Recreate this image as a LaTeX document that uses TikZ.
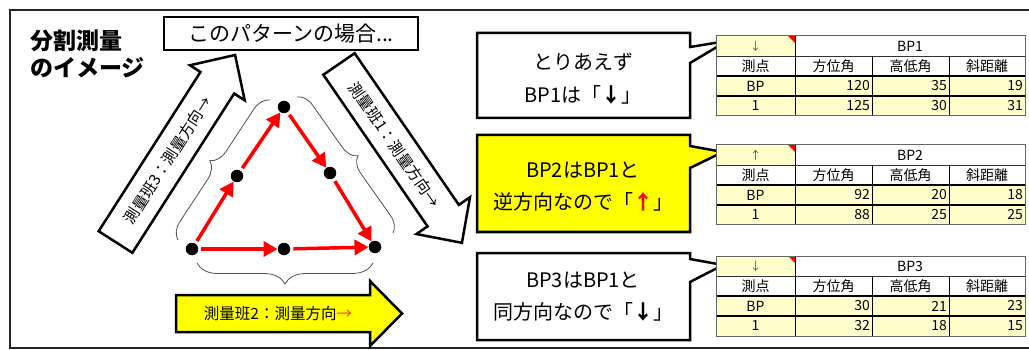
\documentclass[tikz,border=0pt]{standalone}
\usepackage{fontspec}
\setmainfont{Noto Sans CJK JP}
\usetikzlibrary{arrows.meta,decorations.pathreplacing}
\definecolor{cyel}{HTML}{FFFF00}
\definecolor{tyel}{HTML}{FFFFCC}
\definecolor{bracegray}{HTML}{505050}
\definecolor{arrred}{HTML}{FF3300}
\begin{document}
\begin{tikzpicture}[x=1pt,y=-1pt,
  dot/.style={circle,fill=black,minimum size=12.5pt,inner sep=0pt},
  redarr/.style={draw=red,line width=3.5pt,-{Triangle[length=14pt,width=15pt]},shorten <=3pt},
  brc/.style={draw=bracegray,line width=0.8pt,decorate,decoration={brace,amplitude=#1}},
  blk/.style={draw=black,line width=2.5pt,line join=miter},
  arrtext/.style={font=\fontsize{15.5}{18}\selectfont,inner sep=0pt},
  calltext/.style={font=\fontsize{20}{24}\selectfont,inner sep=0pt},
  tcell/.style={font=\fontsize{14}{16}\selectfont,inner sep=0pt},
  tnum/.style={font=\fontsize{14}{16}\selectfont,inner sep=0pt,anchor=east}]
\useasboundingbox (0,0) rectangle (1029,350);
\fill[white] (0,0) rectangle (1029,350);
% frame
\draw[line width=2pt,black!85] (1029,10) -- (10,10) -- (10,348) -- (1029,348);
% title
\node[anchor=west,font=\bfseries\fontsize{23}{26}\selectfont,inner sep=0pt] (title1) at (30,41) {分割測量};
\node[anchor=west,font=\bfseries\fontsize{23}{26}\selectfont,inner sep=0pt] (title2) at (30,68) {のイメージ};
% pattern box
\node[blk,line width=2.2pt,minimum width=254pt,minimum height=33pt,inner sep=0pt,font=\fontsize{21}{24}\selectfont] (pattern) at (291,33.5) {このパターンの場合...};
% big arrow 3 (up-right)
\begin{scope}[shift={(115.5,242)},rotate=57.4]
  \draw[blk,fill=white] (0,-20) -- (189,-20) -- (189,-32.5) -- (222,0) -- (189,32.5) -- (189,20) -- (0,20) -- cycle;
  \node[arrtext,rotate=57.4] (team3) at (97,0) {測量班3：測量方向→};
\end{scope}
% big arrow 1 (down-right)
\begin{scope}[shift={(339,64)},rotate=-55.5]
  \draw[blk,fill=white] (0,-19) -- (184,-19) -- (184,-32.5) -- (217,0) -- (184,32.5) -- (184,19) -- (0,19) -- cycle;
  \node[arrtext,rotate=-55.5] (team1) at (98,0) {測量班1：測量方向→};
\end{scope}
% big arrow 2 (right, yellow)
\draw[blk,fill=cyel] (176,295) -- (370,295) -- (370,281) -- (402,313.5) -- (370,346) -- (370,332) -- (176,332) -- cycle;
\node[arrtext] (team2) at (278,314) {測量班2：測量方向\textcolor{arrred}{→}};
% dots
\node[dot] (T) at (284,107) {};
\node[dot] (LM) at (237,176) {};
\node[dot] (RM) at (330,173) {};
\node[dot] (BL) at (192,249) {};
\node[dot] (BM) at (284,249) {};
\node[dot] (BR) at (375,247) {};
\draw[redarr] (BL) -- (LM);
\draw[redarr] (LM) -- (T);
\draw[redarr] (T) -- (RM);
\draw[redarr] (RM) -- (BR);
\draw[redarr] (BL) -- (BM);
\draw[redarr] (BM) -- (BR);
% braces
\coordinate (bl1) at (178,240); \coordinate (bl2) at (270,100);
\coordinate (br1) at (297,97); \coordinate (br2) at (393,233);
\coordinate (bb1) at (373,263); \coordinate (bb2) at (197,263);
\draw[brc=17pt] (bl1) -- (bl2);
\draw[brc=16pt] (br1) -- (br2);
\draw[brc=21pt] (bb1) -- (bb2);
% callouts
\draw[blk,fill=white] (477,33) -- (690,33) -- (690,47) -- (727,41) -- (690,63) -- (690,118) -- (477,118) -- cycle;
\node[calltext] (c1a) at (583,62) {とりあえず};
\node[calltext] (c1b) at (583,95) {BP1は「{\bfseries ↓}」};
\draw[blk,fill=cyel] (477,135) -- (690,135) -- (690,146) -- (723,152) -- (690,168) -- (690,232) -- (477,232) -- cycle;
\node[calltext] (c2a) at (583,170) {BP2はBP1と};
\node[calltext] (c2b) at (583,202) {逆方向なので「\textcolor{red}{\bfseries ↑}」};
\draw[blk,fill=white] (477,253) -- (690,253) -- (690,259) -- (723,265) -- (690,282) -- (690,340) -- (477,340) -- cycle;
\node[calltext] (c3a) at (583,280) {BP3はBP1と};
\node[calltext] (c3b) at (583,312) {同方向なので「{\bfseries ↓}」};
% tables
\foreach \id/\ty/\ar/\nm/\a/\b/\c/\d/\e/\f in {1/36/↓/BP1/120/35/19/125/30/31, 2/145/↑/BP2/92/20/18/88/25/25, 3/256/↓/BP3/30/21/23/32/18/15} {
  \fill[tyel] (716,\ty) rectangle (795,\ty+20);
  \fill[tyel] (716,\ty+40) rectangle (1025,\ty+80);
  \fill[red] (795,\ty) -- (788,\ty) -- (795,\ty+7) -- cycle;
  \draw[black!80,line width=0.7pt] (716,\ty+20) -- (1025,\ty+20);
  \draw[black,line width=1.4pt] (716,\ty+40) -- (1025,\ty+40) (716,\ty+60) -- (1025,\ty+60);
  \draw[black,line width=1pt] (795,\ty) -- (795,\ty+80) (872,\ty+20) -- (872,\ty+80) (949,\ty+20) -- (949,\ty+80);
  \draw[black!60,line width=1pt] (716,\ty) rectangle (1025,\ty+80);
  \node[tcell,font=\fontsize{11}{12}\selectfont,text=black!70] (t\id-ar) at (755.5,\ty+10) {\ar};
  \node[tcell] (t\id-nm) at (910,\ty+10) {\nm};
  \node[tcell] (t\id-h0) at (755.5,\ty+30) {測点};
  \node[tcell] (t\id-h1) at (833.5,\ty+30) {方位角};
  \node[tcell] (t\id-h2) at (910.5,\ty+30) {高低角};
  \node[tcell] (t\id-h3) at (987,\ty+30) {斜距離};
  \node[tcell] (t\id-r1) at (755.5,\ty+50) {BP};
  \node[tcell] (t\id-r2) at (755.5,\ty+70) {1};
  \node[tnum] (t\id-a) at (870,\ty+50) {\a};
  \node[tnum] (t\id-b) at (947,\ty+50) {\b};
  \node[tnum] (t\id-c) at (1023,\ty+50) {\c};
  \node[tnum] (t\id-d) at (870,\ty+70) {\d};
  \node[tnum] (t\id-e) at (947,\ty+70) {\e};
  \node[tnum] (t\id-f) at (1023,\ty+70) {\f};
}
\end{tikzpicture}
\end{document}
